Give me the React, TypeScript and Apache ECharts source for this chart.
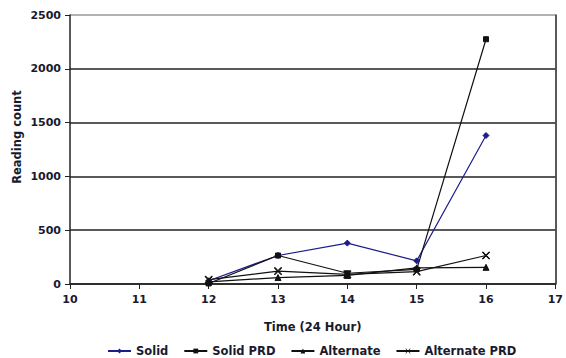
import React, { useEffect, useRef } from "react";
import * as echarts from "echarts";

const hours = [12, 13, 14, 15, 16];
const solid = [30, 265, 380, 215, 1380];
const solidPRD = [5, 265, 100, 135, 2275];
const alternate = [20, 60, 80, 150, 155];
const alternatePRD = [40, 120, 90, 115, 265];
const seriesNames = ["Solid", "Solid PRD", "Alternate", "Alternate PRD"];
const yAxisTitle = "Reading count";
const xAxisTitle = "Time (24 Hour)";

const xSymbol = "path://M10,0 L10,1 L5.7,5 L10,9 L10,10 L9,10 L5,5.7 L1,10 L0,10 L0,9 L4.3,5 L0,1 L0,0 L1,0 L5,4.3 L9,0 Z";

export default function App() {
  const ref = useRef<HTMLDivElement>(null);
  useEffect(() => {
    const chart = echarts.init(ref.current!, null, { renderer: "svg" });
    const font = { fontFamily: "DejaVu Sans, sans-serif", fontWeight: "bold" as const, fontSize: 11, color: "#1a1a2e" };
    const mk = (arr: number[]) => hours.map((h, i) => [h, arr[i]]);
    const base = (name: string, data: number[], color: string, symbol: string, size: number) => ({
      name,
      type: "line",
      data: mk(data),
      symbol,
      symbolSize: size,
      lineStyle: { color, width: 1.2 },
      itemStyle: { color, borderColor: color },
    });
    chart.setOption({
      animation: false,
      backgroundColor: "#fff",
      grid: { left: 70, right: 4, top: 15, bottom: 74, show: false },
      graphic: [
        {
          type: "text",
          x: 17,
          y: 137,
          rotation: Math.PI / 2,
          style: {
            text: yAxisTitle,
            fontFamily: font.fontFamily,
            fontWeight: "bold",
            fontSize: 11.5,
            fill: "#1a1a2e",
            align: "center",
            verticalAlign: "middle",
          },
        },
      ],
      legend: {
        bottom: 1,
        left: 107,
        padding: 0,
        itemWidth: 23,
        itemHeight: 6,
        itemGap: 15,
        textStyle: { ...font, fontSize: 11.5 },
        data: seriesNames,
      },
      xAxis: {
        type: "value",
        min: 10,
        max: 17,
        interval: 1,
        name: xAxisTitle,
        nameLocation: "middle",
        nameGap: 37,
        nameTextStyle: { ...font, fontSize: 11.5 },
        axisLine: { lineStyle: { color: "#222", width: 1.5 } },
        axisTick: { show: true, inside: false, length: 5, lineStyle: { color: "#222" } },
        axisLabel: { ...font, margin: 10 },
        splitLine: { show: false },
      },
      yAxis: [
        {
          type: "value",
          min: 0,
          max: 2500,
          interval: 500,
          axisLine: { show: true, lineStyle: { color: "#222", width: 1.5 } },
          axisTick: { show: true, inside: false, length: 5, lineStyle: { color: "#222" } },
          axisLabel: { ...font, margin: 9, formatter: (v: number) => String(v) },
          splitLine: {
            show: true,
            lineStyle: { color: ["#222", "#222", "#222", "#222", "#222", "#999"], width: 1.5 },
          },
        },
        {
          type: "value",
          position: "right",
          min: 0,
          max: 2500,
          interval: 500,
          axisLine: { show: true, lineStyle: { color: "#222", width: 1.5 } },
          axisTick: { show: false },
          axisLabel: { show: false },
          splitLine: { show: false },
        },
      ],
      series: [
        base("Solid", solid, "#1c1c8c", "diamond", 6),
        base("Solid PRD", solidPRD, "#111", "rect", 5),
        base("Alternate", alternate, "#111", "triangle", 6),
        base("Alternate PRD", alternatePRD, "#111", xSymbol, 7),
      ],
    });
    return () => chart.dispose();
  }, []);
  return <div ref={ref} style={{ position: "absolute", left: 0, top: 0, width: 566, height: 358 }} />;
}
